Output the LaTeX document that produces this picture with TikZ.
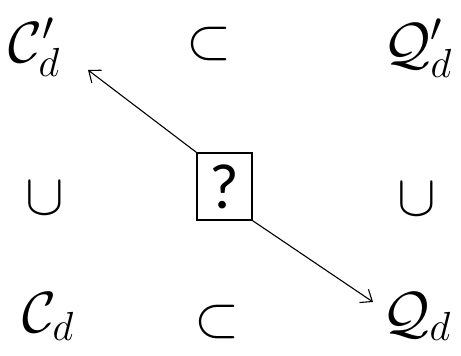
\RequirePackage{fix-cm}
\documentclass[tikz,border=0pt]{standalone}
\usepackage{fontspec}
\newfontfamily\qfont{Carlito}
\usetikzlibrary{arrows.meta}
\begin{document}
\begin{tikzpicture}[x=1pt,y=-1pt,
  sym/.style={font=\fontsize{58}{60}\selectfont, inner sep=0pt, anchor=base},
  rel/.style={font=\fontsize{58}{60}\selectfont, inner sep=0pt},
  qbox/.style={draw, line width=1.5pt, minimum width=55pt, minimum height=67pt, inner sep=0pt, font=\fontsize{64}{64}\qfont\selectfont},
  arr/.style={line width=1.1pt, -{Straight Barb[length=10pt,width=16pt]}}]
\useasboundingbox (0,0) rectangle (461,356);
\node[sym, anchor=base west] (c1) at (8,62) {$\mathcal{C}'_d$};
\node[sym, anchor=base west] (q1) at (383,63) {$\mathcal{Q}'_d$};
\node[sym, anchor=base west] (c0) at (22,332) {$\mathcal{C}_d$};
\node[sym, anchor=base west] (q0) at (382,332) {$\mathcal{Q}_d$};
\node[rel] (sub1) at (209,44) {$\subset$};
\node[rel] (sub0) at (217.5,322) {$\subset$};
\node[rel] (cupl) at (45,198) {$\cup$};
\node[rel] (cupr) at (416.5,199) {$\cup$};
\node[qbox] (box) at (224.5,186.5) {?};
\coordinate (t1) at (88,70);
\coordinate (t0) at (373,302);
\draw[arr] (box.north west) -- (t1);
\draw[arr] (box.south east) -- (t0);
\end{tikzpicture}
\end{document}
